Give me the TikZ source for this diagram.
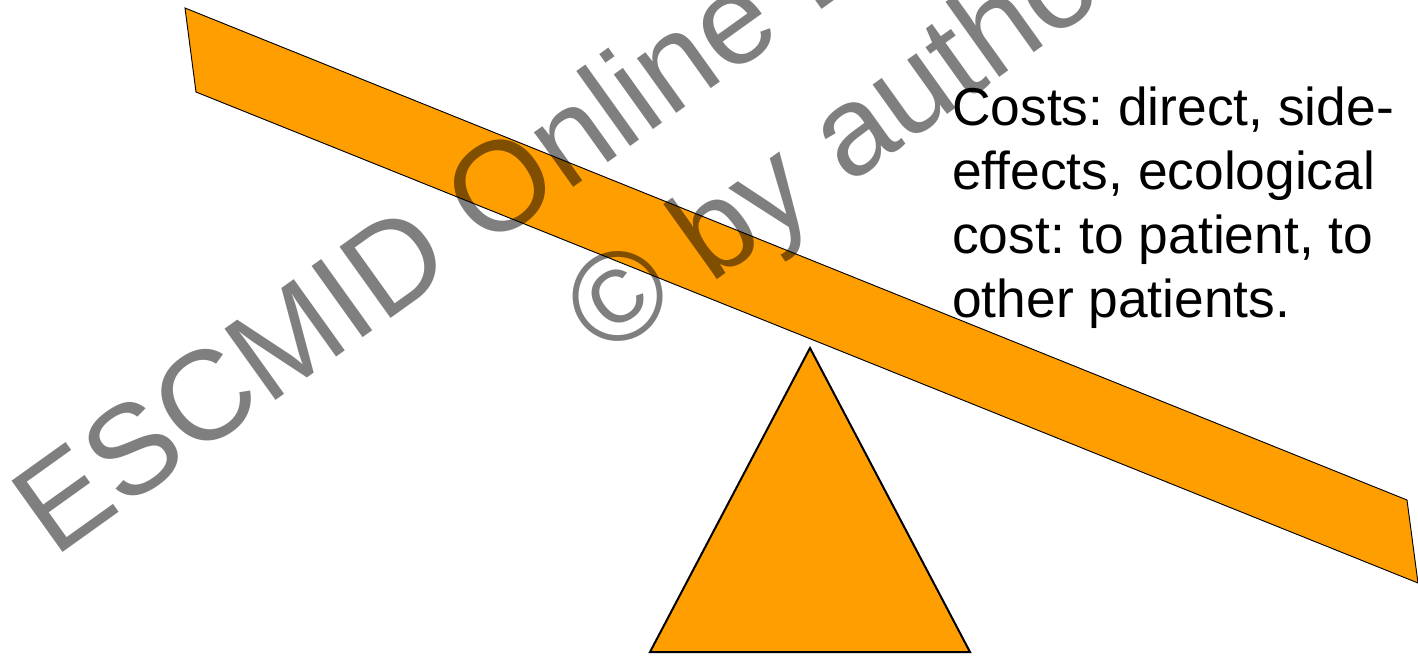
\documentclass[tikz,border=0pt]{standalone}
\usepackage{fontspec}
\setmainfont{Liberation Sans}
\frenchspacing
\definecolor{seesaw}{RGB}{255,158,0}
\tikzset{
  plank/.style={fill=seesaw, draw=black, line width=0.7pt, line join=miter},
  pivot/.style={fill=seesaw, draw=black, line width=1.5pt, line join=miter},
  costline/.style={anchor=base west, inner sep=0pt, text=black,
    font=\fontsize{40}{48}\selectfont},
  stamp/.style={anchor=base west, inner sep=0pt, rotate=35.6, text=black,
    text opacity=0.5, font=\fontsize{95.5}{110}\selectfont}
}
\begin{document}
\begin{tikzpicture}[x=0.75pt, y=-0.75pt]
  \useasboundingbox (0,0) rectangle (1418,657);
  \clip (0,0) rectangle (1418,657);

  % tilted plank of the balance
  \draw[plank] (185,8) -- (1407,500) -- (1418,583) -- (196,92) -- cycle;

  % fulcrum
  \draw[pivot] (810,348) -- (970,652) -- (650,652) -- cycle;

  % cost side label
  \node[costline] (cost1) at (952,125) {Costs: direct, side-};
  \node[costline] (cost2) at (952,189) {effects, ecological};
  \node[costline] (cost3) at (952,253) {cost: to patient, to};
  \node[costline] (cost4) at (952,317) {other patients.};

  % copyright stamp across the slide
  \node[stamp] (stampa) at (54,559) {ESCMID Online Lecture Library};
  \node[stamp] (stampb) at (605,360) {© by author};
\end{tikzpicture}
\end{document}
